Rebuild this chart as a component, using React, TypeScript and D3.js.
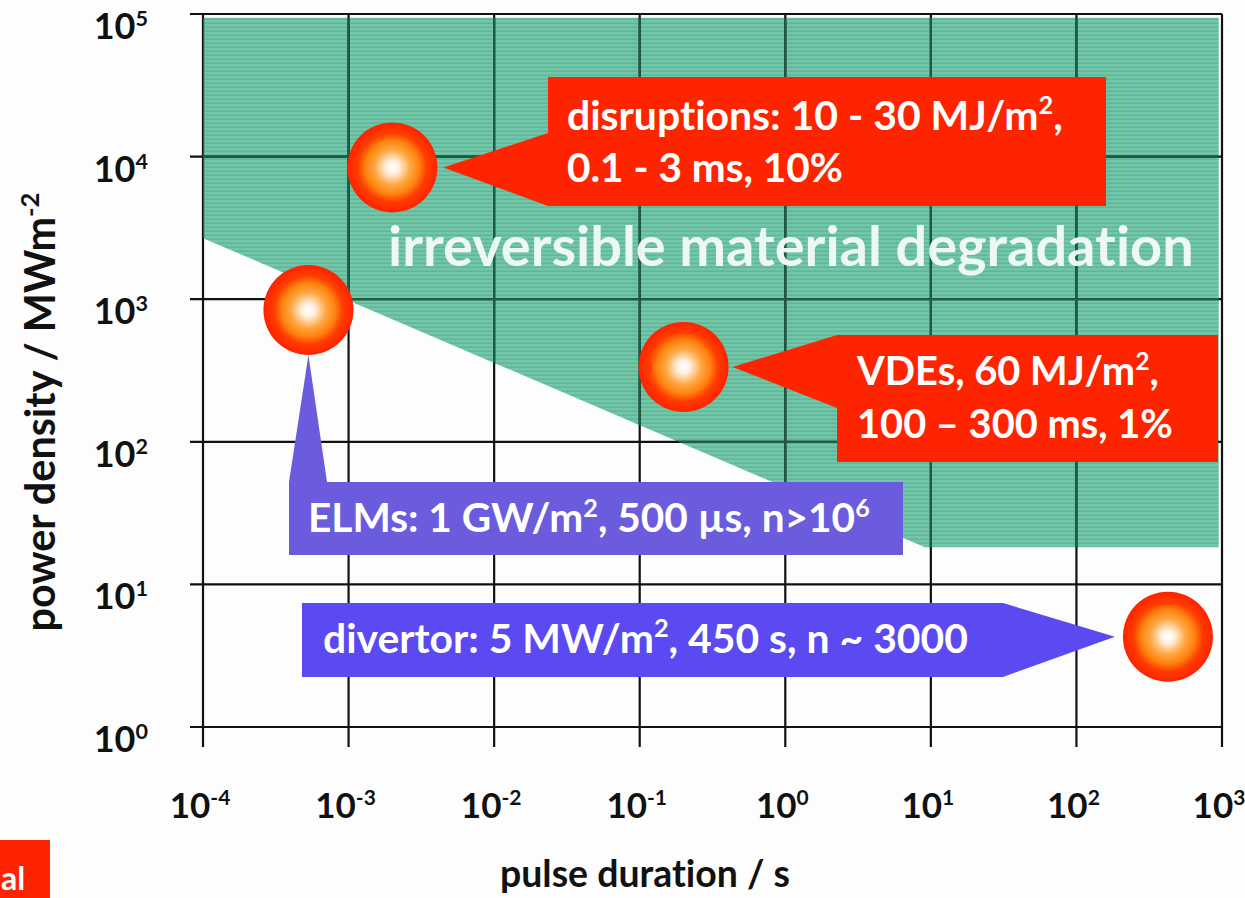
import React, { useLayoutEffect, useRef, useState } from "react";
import * as d3 from "d3";

// ---------- data ----------
const xExponents = [-4, -3, -2, -1, 0, 1, 2, 3];
const yExponents = [0, 1, 2, 3, 4, 5];

const eventNames = ["disruptions", "ELMs", "VDEs", "divertor"];
const eventDurations = [2.0e-3, 5.3e-4, 0.2, 425]; // s
const eventPowerDensities = [8400, 840, 335, 4.3]; // MW/m^2

// irreversible material degradation region (polygon corners)
const thresholdDurations = [1e-4, 1e-4, 9.1, 950, 950];
const thresholdPowers = [9.4e4, 2680, 18.2, 18.2, 9.4e4];

type Seg = { t: string; sup?: boolean };
const disruptionLines: Seg[][] = [
  [{ t: "disruptions: 10 - 30 MJ/m" }, { t: "2", sup: true }, { t: "," }],
  [{ t: "0.1 - 3 ms, 10%" }],
];
const vdeLines: Seg[][] = [
  [{ t: "VDEs, 60 MJ/m" }, { t: "2", sup: true }, { t: "," }],
  [{ t: "100 \u2013 300 ms, 1%" }],
];
const elmLines: Seg[][] = [
  [{ t: "ELMs: 1 GW/m" }, { t: "2", sup: true }, { t: ", 500 \u00b5s, n>10" }, { t: "6", sup: true }],
];
const divertorLines: Seg[][] = [
  [{ t: "divertor: 5 MW/m" }, { t: "2", sup: true }, { t: ", 450 s, n ~ 3000" }],
];
const regionLabel: Seg[] = [{ t: "irreversible material degradation" }];
const xTitle: Seg[] = [{ t: "pulse duration / s" }];
const yTitle: Seg[] = [{ t: "power density / MWm" }, { t: "-2", sup: true }];

// ---------- layout ----------
const W = 1245;
const H = 898;
const PL = 203, PR = 1222, PT = 14, PB = 727;
const FONT = "Lato, 'Open Sans', sans-serif";
const RED = "#ff2400";
const ELM_BLUE = "#6a5cdc";
const DIV_BLUE = "#5b49f2";
const BALL_R = 45;
const NOLIG: React.CSSProperties = { fontVariantLigatures: "none", fontFeatureSettings: '"liga" 0, "clig" 0' };

const x = d3.scaleLog().domain([1e-4, 1e3]).range([PL, PR]);
const y = d3.scaleLog().domain([1, 1e5]).range([PB, PT]);

function renderSegs(segs: Seg[], fs: number, supScale = 0.62, supShift = 0.38) {
  const out: React.ReactNode[] = [];
  let prevSup = false;
  segs.forEach((s, i) => {
    if (s.sup) {
      out.push(
        <tspan key={i} dy={-supShift * fs} fontSize={fs * supScale}>
          {s.t}
        </tspan>
      );
      prevSup = true;
    } else {
      out.push(
        <tspan key={i} dy={prevSup ? supShift * fs : 0}>
          {s.t}
        </tspan>
      );
      prevSup = false;
    }
  });
  return out;
}

function FitText(props: {
  x: number;
  y: number;
  segs: Seg[];
  target: number;
  init: number;
  anchor?: string;
  fill?: string;
  rotate?: number;
  weight?: number;
  opacity?: number;
}) {
  const { x: tx, y: ty, segs, target, init, anchor = "start", fill = "#111", rotate = 0, weight = 700, opacity = 1 } = props;
  const ref = useRef<SVGTextElement>(null);
  const [fs, setFs] = useState(init);
  const iter = useRef(0);
  useLayoutEffect(() => {
    const el = ref.current;
    if (!el) return;
    const w = el.getBBox().width;
    if (w > 0 && Math.abs(w - target) > 0.6 && iter.current < 6) {
      iter.current++;
      setFs(fs * (target / w));
    }
  }, [fs, target]);
  return (
    <text
      ref={ref}
      x={tx}
      y={ty}
      fontSize={fs}
      fontFamily={FONT}
      fontWeight={weight}
      fill={fill}
      fillOpacity={opacity}
      textAnchor={anchor as any}
      style={NOLIG}
      transform={rotate ? `rotate(${rotate},${tx},${ty})` : undefined}
    >
      {renderSegs(segs, fs)}
    </text>
  );
}

function TickLabel({ tx, ty, exp, anchor, fs }: { tx: number; ty: number; exp: number; anchor: string; fs: number }) {
  return (
    <text x={tx} y={ty} fontSize={fs} fontFamily={FONT} fontWeight={700} fill="#111" textAnchor={anchor as any}>
      {renderSegs([{ t: "10" }, { t: String(exp), sup: true }], fs, 0.6, 0.36)}
    </text>
  );
}

export default function App() {
  const regionPts: [number, number][] = thresholdDurations.map((d, i) => [x(d), y(thresholdPowers[i])]);
  const regionPath = d3.line().curve(d3.curveLinearClosed)(regionPts) as string;

  const ball = eventNames.map((_, i) => ({ cx: x(eventDurations[i]), cy: y(eventPowerDensities[i]) }));
  const [bDis, bElm, bVde, bDiv] = ball;

  // callout shapes (rect + pointer), pointer tips derived from event marker positions
  const disRect = { x0: 548, y0: 77, x1: 1106, y1: 206 };
  const disPath = `M${disRect.x0},${disRect.y0}H${disRect.x1}V${disRect.y1}H${disRect.x0}L${bDis.cx + BALL_R + 6},${bDis.cy}L${disRect.x0},133Z`;

  const vdeRect = { x0: 837, y0: 335, x1: 1218, y1: 462 };
  const vdePath = `M${vdeRect.x0},${vdeRect.y0}H${vdeRect.x1}V${vdeRect.y1}H${vdeRect.x0}V408L${bVde.cx + BALL_R + 4},${bVde.cy}Z`;

  const elmRect = { x0: 289, y0: 482, x1: 903, y1: 555 };
  const elmPath = `M${elmRect.x0},${elmRect.y0}L${bElm.cx},${bElm.cy + BALL_R}L327,${elmRect.y0}H${elmRect.x1}V${elmRect.y1}H${elmRect.x0}Z`;

  const divRect = { x0: 302, y0: 603, x1: 1003, y1: 677 };
  const divPath = `M${divRect.x0},${divRect.y0}H${divRect.x1}L${bDiv.cx - BALL_R - 8},${bDiv.cy}L${divRect.x1},${divRect.y1}H${divRect.x0}Z`;

  const grid = (stroke: string) => (
    <g stroke={stroke} strokeWidth={2.2} fill="none">
      {xExponents.map((e) => (
        <line key={"vx" + e} x1={x(10 ** e)} x2={x(10 ** e)} y1={PT} y2={PB + 20} />
      ))}
      {yExponents.map((e) => (
        <line key={"hy" + e} x1={PL - 13} x2={PR} y1={y(10 ** e)} y2={y(10 ** e)} />
      ))}
    </g>
  );

  return (
    <svg width={W} height={H} style={{ position: "absolute", left: 0, top: 0, background: "#fdfdfd" }}>
      <defs>
        <pattern id="stripes" width={8} height={4} patternUnits="userSpaceOnUse">
          <rect width={8} height={4} fill="#72c6a9" />
          <rect y={2.6} width={8} height={1.2} fill="#5eb294" />
        </pattern>
        <clipPath id="regionClip">
          <path d={regionPath} />
        </clipPath>
        <radialGradient id="ballGrad" cx="50%" cy="50%" r="50%">
          <stop offset="0%" stopColor="#ffffff" />
          <stop offset="14%" stopColor="#fff1e2" />
          <stop offset="40%" stopColor="#ffa640" />
          <stop offset="60%" stopColor="#ff820e" />
          <stop offset="77%" stopColor="#ff3c00" />
          <stop offset="100%" stopColor="#ff2200" />
        </radialGradient>
      </defs>

      {/* degradation region */}
      <path d={regionPath} fill="url(#stripes)" />

      {/* grid */}
      {grid("#111")}
      <g clipPath="url(#regionClip)">{grid("#1c5d46")}</g>

      {/* region label */}
      <FitText x={388} y={266} segs={regionLabel} target={806} init={44} fill="#f4fbf8" opacity={0.95} />

      {/* axis tick labels */}
      {xExponents.map((e) => (
        <TickLabel key={"xl" + e} tx={x(10 ** e) - 3} ty={818} exp={e} anchor="middle" fs={35} />
      ))}
      {yExponents.map((e) => (
        <TickLabel key={"yl" + e} tx={148} ty={y(10 ** e) + 25} exp={e} anchor="end" fs={36} />
      ))}

      {/* axis titles */}
      <FitText x={645} y={887} segs={xTitle} target={290} init={34} anchor="middle" />
      <FitText x={55} y={412} segs={yTitle} target={439} init={32} anchor="middle" rotate={-90} />

      {/* callouts */}
      <path d={disPath} fill={RED} />
      <path d={vdePath} fill={RED} />
      <path d={elmPath} fill={ELM_BLUE} />
      <path d={divPath} fill={DIV_BLUE} />

      <FitText x={567} y={130} segs={disruptionLines[0]} target={496} init={36} fill="#fff" />
      <FitText x={567} y={182} segs={disruptionLines[1]} target={276} init={36} fill="#fff" />
      <FitText x={857} y={385} segs={vdeLines[0]} target={303} init={36} fill="#fff" />
      <FitText x={857} y={438} segs={vdeLines[1]} target={316} init={36} fill="#fff" />
      <FitText x={308} y={532} segs={elmLines[0]} target={562} init={34} fill="#fff" />
      <FitText x={323} y={653} segs={divertorLines[0]} target={645} init={34} fill="#fff" />

      {/* event markers */}
      {ball.map((b, i) => (
        <circle key={eventNames[i]} cx={b.cx} cy={b.cy} r={BALL_R} fill="url(#ballGrad)" />
      ))}

      {/* cropped slide element bottom-left */}
      <rect x={0} y={840} width={50} height={58} fill={RED} />
      <text x={1} y={890} fontSize={32} fontFamily={FONT} fontWeight={700} fill="#fff">
        al
      </text>
    </svg>
  );
}
